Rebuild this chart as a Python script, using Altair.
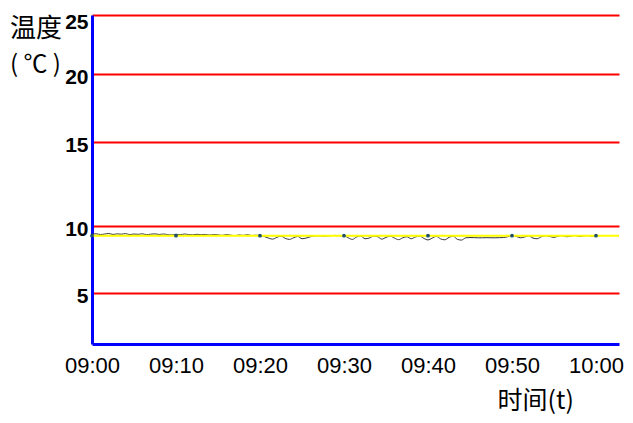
import altair as alt
import pandas as pd
import numpy as np

# ---- data ----
minutes = list(np.arange(0, 60.5, 0.5))
temps = [
    9.38, 9.42, 9.36, 9.40, 9.44, 9.37, 9.41, 9.39, 9.43, 9.36,
    9.40, 9.38, 9.42, 9.35, 9.39, 9.41, 9.37, 9.40, 9.36, 9.33,
    9.38, 9.35, 9.40, 9.36, 9.34, 9.38, 9.35, 9.37, 9.33, 9.36,
    9.34, 9.30, 9.36, 9.32, 9.28, 9.33, 9.30, 9.35, 9.29, 9.31,
    9.30, 9.22, 9.10, 9.02, 9.15, 9.25, 9.08, 9.00, 9.12, 9.22,
    9.05, 9.10, 9.20, 9.26, 9.27, 9.25, 9.26, 9.28, 9.30, 9.27,
    9.28, 9.12, 9.00, 9.18, 9.25, 9.05, 9.10, 9.24, 9.20, 9.02,
    9.15, 9.24, 9.10, 8.98, 9.12, 9.20, 9.05, 9.18, 9.25, 9.08,
    8.96, 9.10, 9.22, 9.04, 8.97, 9.15, 9.25, 9.00, 8.95, 9.12,
    9.14, 9.13, 9.12, 9.12, 9.13, 9.12, 9.12, 9.13, 9.14, 9.20,
    9.28, 9.22, 9.12, 9.18, 9.26, 9.10, 9.05, 9.20, 9.27, 9.22,
    9.15, 9.25, 9.28, 9.20, 9.24, 9.30, 9.22, 9.26, 9.29, 9.25, 9.28,
]
ref_x = [0, 62.74]
ref_y = [9.28, 9.28]
marker_x = [0, 10, 20, 30, 40, 50, 60]
marker_y = [9.28, 9.28, 9.28, 9.28, 9.28, 9.28, 9.28]
x_ticks = [0, 10, 20, 30, 40, 50, 60]
x_labels = ["09:00", "09:10", "09:20", "09:30", "09:40", "09:50", "10:00"]
y_ticks = [5, 10, 15, 20, 25]
y_title_lines = ["温度", "( ℃ )"]
x_title = "时间(t)"

df_line = pd.DataFrame({"m": minutes, "v": temps})
df_ref = pd.DataFrame({"m": ref_x, "v": ref_y})
df_mk = pd.DataFrame({"m": marker_x, "v": marker_y})

label_arr = "[" + ",".join(f"'{s}'" for s in x_labels) + "]"

x_scale = alt.Scale(domain=[0, 62.74], nice=False, zero=False)
y_scale = alt.Scale(domain=[1.2, 5, 10, 15, 20, 25],
                    range=[329, 278, 211, 127, 59, 0], nice=False, zero=False)

x_axis = alt.Axis(values=x_ticks, labelExpr=f"{label_arr}[round(datum.value/10)]",
                  grid=False, ticks=False, domainColor="#0000ff", domainWidth=3,
                  labelFont="Liberation Sans", labelFontSize=22, labelColor="#000",
                  labelPadding=11, labelFlush=False, labelOverlap=False,
                  title=x_title, titleFont="Noto Sans CJK SC", titleFontSize=25,
                  titleFontWeight="normal", titleColor="#000", titleAlign="left",
                  titleAnchor="start", titleX=405, titleY=64, titleBaseline="alphabetic")
y_axis = alt.Axis(values=y_ticks, grid=True, gridColor="#ff0000", gridWidth=2,
                  gridOpacity=1, ticks=False, domainColor="#0000ff", domainWidth=3,
                  labelFont="Liberation Sans", labelFontSize=21, labelFontWeight="bold",
                  labelColor="#000", labelPadding=4,
                  labelOffset={"condition": {"test": "datum.value == 25", "value": 7}, "value": 3},
                  labelFlush=False, title=None)

base_x = alt.X("m:Q", scale=x_scale, axis=x_axis)
base_y = alt.Y("v:Q", scale=y_scale, axis=y_axis)

line = alt.Chart(df_line).mark_line(color="#333333", strokeWidth=1, interpolate="monotone").encode(
    x=base_x, y=base_y)
ref = alt.Chart(df_ref).mark_line(color="#ffff00", strokeWidth=2).encode(
    x=alt.X("m:Q", scale=x_scale), y=alt.Y("v:Q", scale=y_scale))
mk = alt.Chart(df_mk).mark_point(filled=True, color="#1f4f6a", size=14, opacity=1).encode(
    x=alt.X("m:Q", scale=x_scale), y=alt.Y("v:Q", scale=y_scale))

t1 = alt.Chart(pd.DataFrame({"t": [y_title_lines[0]]})).mark_text(
    font="Noto Sans CJK SC", fontSize=26, align="left", baseline="middle", color="#000"
).encode(x=alt.value(-82), y=alt.value(14), text="t:N")
t2 = alt.Chart(pd.DataFrame({"t": [y_title_lines[1]]})).mark_text(
    font="Noto Sans CJK SC", fontSize=24, align="left", baseline="middle", color="#000"
).encode(x=alt.value(-82), y=alt.value(50), text="t:N")

chart = alt.layer(line, ref, mk, t1, t2).properties(
    width=527, height=329,
    padding={"left": 84, "top": 7, "right": 6, "bottom": 71},
    autosize=alt.AutoSizeParams(type="none"),
    background="white",
).configure_view(stroke=None)

chart.save("out.html", embed_options={"renderer": "svg", "actions": False})
